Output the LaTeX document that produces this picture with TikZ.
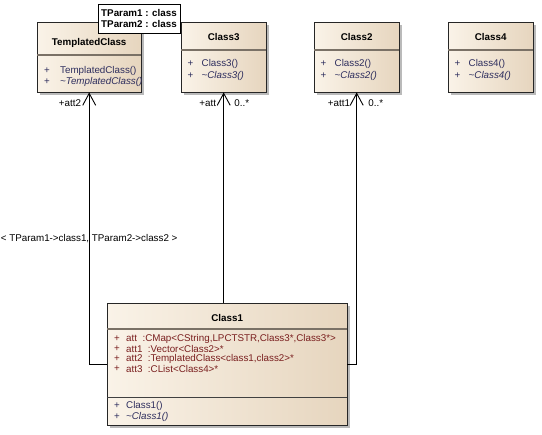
\documentclass[tikz,border=0pt]{standalone}
\usepackage{fontspec}
\setmainfont{Liberation Sans}
\usetikzlibrary{calc,arrows.meta,shadows}

\definecolor{boxl}{HTML}{FAF3E8}
\definecolor{boxm}{HTML}{F5EBDB}
\definecolor{boxr}{HTML}{E6D5BE}
\definecolor{sepcol}{HTML}{7A7166}
\definecolor{atcol}{HTML}{7A1F1F}
\definecolor{opcol}{HTML}{2E2E5E}

\begin{document}
\begin{tikzpicture}[x=1pt, y=-1pt,
  every node/.style={font=\fontsize{9.8}{11}\selectfont},
  class/.style={draw=black!85, anchor=north west, inner sep=0pt,
    left color=boxl, middle color=boxm, right color=boxr,
    drop shadow={shadow xshift=2.5pt, shadow yshift=-2.5pt, fill=black!45, opacity=.6}},
  cname/.style={font=\fontsize{9.8}{11}\selectfont\bfseries},
  attr/.style={anchor=west, inner sep=0pt, text=atcol},
  oper/.style={anchor=west, inner sep=0pt, text=opcol},
  sep/.style={draw=sepcol, line width=1.6pt},
  thinsep/.style={draw=black!75, line width=0.8pt},
  tparam/.style={draw, fill=white, inner sep=0pt, minimum width=82, minimum height=29,
    align=left, font=\fontsize{9.8}{11}\selectfont\bfseries},
  role/.style={inner sep=0pt},
  assoc/.style={line width=0.9pt, -{Straight Barb[length=12pt, width=13pt, line width=0.9pt]}}
]
\useasboundingbox (0,0) rectangle (542,435);

% templated class
\node[class, minimum width=104, minimum height=69.5] (tc) at (37,22.5) {};
\draw[sep] ($(tc.north west)+(0,32.5)$) -- ($(tc.north east)+(0,32.5)$);
\node[cname] (tcname) at ($(tc.north)+(0,20.5)$) {TemplatedClass};
\node[oper] (tcp1) at ($(tc.north west)+(7,48.5)$) {+};
\node[oper] (tco1) at ($(tc.north west)+(23,48.5)$) {TemplatedClass()};
\node[oper] (tcp2) at ($(tc.north west)+(7,59.5)$) {+};
\node[oper] (tco2) at ($(tc.north west)+(23,59.5)$) {\itshape\textasciitilde TemplatedClass()};
\node[tparam] (tp) at (139,18.5) {TParam1 : class\\TParam2 : class};

% simple classes
\foreach \n/\x in {3/181, 2/314, 4/448} {
  \node[class, minimum width=85, minimum height=69.5] (c\n) at (\x,22.5) {};
  \draw[sep] ($(c\n.north west)+(0,27.5)$) -- ($(c\n.north east)+(0,27.5)$);
  \node[cname] (c\n name) at ($(c\n.north)+(0,15)$) {Class\n};
  \node[oper] (c\n p1) at ($(c\n.north west)+(6.5,41.5)$) {+};
  \node[oper] (c\n o1) at ($(c\n.north west)+(20.5,41.5)$) {Class\n()};
  \node[oper] (c\n p2) at ($(c\n.north west)+(6.5,53.5)$) {+};
  \node[oper] (c\n o2) at ($(c\n.north west)+(20.5,53.5)$) {\itshape\textasciitilde Class\n()};
}

% class1
\node[class, minimum width=240, minimum height=122] (c1) at (107,303) {};
\draw[sep] ($(c1.north west)+(0,26)$) -- ($(c1.north east)+(0,26)$);
\draw[thinsep] ($(c1.north west)+(0,94)$) -- ($(c1.north east)+(0,94)$);
\node[cname] (c1name) at ($(c1.north)+(0,15)$) {Class1};
\foreach \i/\dy/\txt in {1/36/{att\ \ :CMap<CString,LPCTSTR,Class3*,Class3*>},
                         2/46/{att1\ \ :Vector<Class2>*},
                         3/56/{att2\ \ :TemplatedClass<class1,class2>*},
                         4/66/{att3\ \ :CList<Class4>*}} {
  \node[attr] (c1ap\i) at ($(c1.north west)+(7,\dy)$) {+};
  \node[attr] (c1a\i) at ($(c1.north west)+(19,\dy)$) {\txt};
}
\node[oper] (c1p1) at ($(c1.north west)+(7,103)$) {+};
\node[oper] (c1o1) at ($(c1.north west)+(19,103)$) {Class1()};
\node[oper] (c1p2) at ($(c1.north west)+(7,114)$) {+};
\node[oper] (c1o2) at ($(c1.north west)+(19,114)$) {\itshape\textasciitilde Class1()};

% associations
\draw[assoc] (c1.west) -| (tc.south)
  node[role, pos=0.732] (bind) {< TParam1->class1, TParam2->class2 >};
\draw[assoc] (c3.south |- c1.north) -- (c3.south);
\draw[assoc] (c1.east) -| (c2.south);

\node[role, anchor=east] (r2) at ($(tc.south)+(-8,11)$) {+att2};
\node[role, anchor=east] (r3) at ($(c3.south)+(-7.5,11)$) {+att};
\node[role, anchor=west] (m3) at ($(c3.south)+(10.5,11)$) {0..*};
\node[role, anchor=east] (r1) at ($(c2.south)+(-6.5,11)$) {+att1};
\node[role, anchor=west] (m1) at ($(c2.south)+(11.5,11)$) {0..*};
\end{tikzpicture}
\end{document}
